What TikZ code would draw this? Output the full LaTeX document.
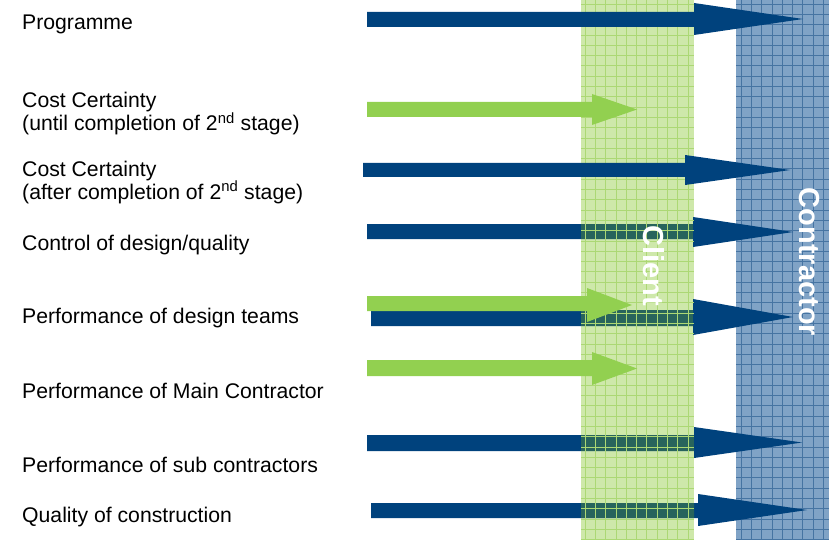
\documentclass[tikz,border=0pt]{standalone}
\usepackage{fontspec}
\setmainfont{Liberation Sans}
\definecolor{arrowblue}{RGB}{0,66,125}
\definecolor{arrowgreen}{RGB}{146,208,80}
\definecolor{clientfill}{RGB}{206,232,170}
\definecolor{clientline}{RGB}{172,216,116}
\definecolor{contrfill}{RGB}{128,163,198}
\definecolor{contrline}{RGB}{70,116,162}
\definecolor{shaftmix}{RGB}{40,100,92}
\tikzset{
  rowlabel/.style={anchor=base west, inner sep=0pt, font=\fontsize{21.2}{24}\selectfont},
  bandtitle/.style={rotate=-90, inner sep=0pt, text=white, font=\fontsize{29}{31}\selectfont\bfseries},
  clientgrid/.style={draw=clientline, line width=0.7pt},
  contrgrid/.style={draw=contrline, line width=0.7pt},
}
% block arrow: colour, shaft start x, shaft top y, shaft bottom y,
% head base x, head top y, head bottom y, tip x
\newcommand\blockarrow[8]{%
  \fill[#1] (#2,#3) -- (#5,#3) -- (#5,#6) -- (#8,{(#6+#7)/2})
    -- (#5,#7) -- (#5,#4) -- (#2,#4) -- cycle;}
% blue arrow whose shaft is seen through the client band
\newcommand\bluearrow[7]{%
  \blockarrow{arrowblue}{#1}{#2}{#3}{#4}{#5}{#6}{#7}
  \begin{scope}
    \clip (581,0) rectangle (694,540);
    \fill[shaftmix] (#1,#2) rectangle (#4,#3);
  \end{scope}}
\begin{document}
\begin{tikzpicture}[x=1pt,y=-1pt]
\useasboundingbox (0,0) rectangle (829,540);

% contractor band
\fill[contrfill] (736,0) rectangle (829,540);
\foreach \gx in {741,751.3,...,829} \draw[contrgrid] (\gx,0) -- (\gx,540);
\foreach \gy in {4,14.3,...,540} \draw[contrgrid] (736,\gy) -- (829,\gy);

% client band
\fill[clientfill] (581,0) rectangle (694,540);

% blue arrows lying under the client band
\bluearrow{367}{224}{239}{693}{217}{247}{793}
\bluearrow{371}{310}{326}{693}{299}{335}{793}
\bluearrow{367}{435}{451}{694}{427}{458}{802}
\bluearrow{371}{503}{518}{698}{494}{526}{807}

% client band grid over the shafts
\begin{scope}
  \clip (581,0) rectangle (694,540);
  \foreach \gx in {585,595.3,...,694} \draw[clientgrid] (\gx,0) -- (\gx,540);
  \foreach \gy in {4,14.3,...,540} \draw[clientgrid] (581,\gy) -- (694,\gy);
\end{scope}

% blue arrows lying over the client band
\blockarrow{arrowblue}{367}{12}{27}{694}{3}{35}{803}
\blockarrow{arrowblue}{363}{163}{177}{685}{155}{185}{790}

% green arrows
\blockarrow{arrowgreen}{367}{102}{117}{592}{94}{125}{637}
\blockarrow{arrowgreen}{367}{296}{311}{587}{288}{322}{632}
\blockarrow{arrowgreen}{367}{360}{376}{592}{352}{385}{637}

% band titles
\node[bandtitle] (client) at (654,266) {Client};
\node[bandtitle] (contractor) at (809,262) {Contractor};

% row labels
\node[rowlabel] (programme) at (22,30) {Programme};
\node[rowlabel] (costA) at (22,108) {Cost Certainty};
\node[rowlabel] (costAsub) at (22,131) {(until completion of 2\textsuperscript{nd} stage)};
\node[rowlabel] (costB) at (22,176) {Cost Certainty};
\node[rowlabel] (costBsub) at (22,199) {(after completion of 2\textsuperscript{nd} stage)};
\node[rowlabel] (control) at (22,250) {Control of design/quality};
\node[rowlabel] (design) at (22,323) {Performance of design teams};
\node[rowlabel] (maincon) at (22,398) {Performance of Main Contractor};
\node[rowlabel] (subcon) at (22,472) {Performance of sub contractors};
\node[rowlabel] (quality) at (22,522) {Quality of construction};
\end{tikzpicture}
\end{document}
